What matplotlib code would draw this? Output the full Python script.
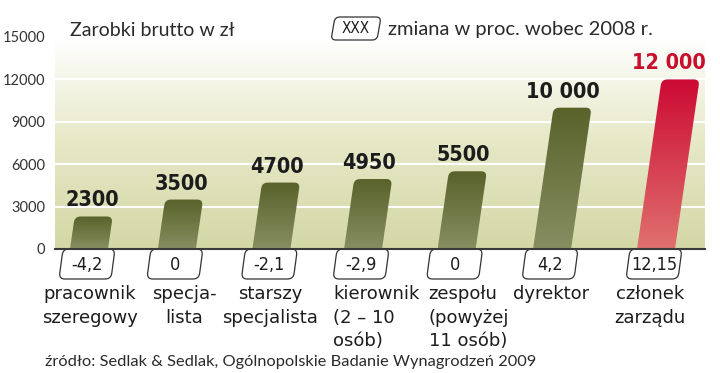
import numpy as np
import matplotlib.pyplot as plt
from matplotlib.patches import Polygon
from matplotlib.colors import LinearSegmentedColormap

categories = ["pracownik\nszeregowy", "specja-\nlista", "starszy\nspecjalista",
              "kierownik\n(2 – 10\nosób)", "zespołu\n(powyżej\n11 osób)",
              "dyrektor", "członek\nzarządu"]
salaries = [2300, 3500, 4700, 4950, 5500, 10000, 12000]
changes = ["-4,2", "0", "-2,1", "-2,9", "0", "4,2", "12,15"]
yticks = [0, 3000, 6000, 9000, 12000, 15000]

# layout in pixels
W, H = 720, 373
L, R, B, T = 55, 705, 249, 37
unit = 94.5
slot = [0, 0.93, 1.93, 2.90, 3.89, 4.90, 6.0]
lab_dx = [1, 7, -1, -30, -28, -1, -6]
lab_ha = ["center", "center", "center", "left", "left", "center", "center"]

COND = dict(family="DejaVu Sans", stretch="condensed")
LIGHT = dict(family="Lato", fontweight="normal")

fig = plt.figure(figsize=(W / 100, H / 100), dpi=100)
ax = fig.add_axes([L / W, 1 - B / H, (R - L) / W, (B - T) / H])
xmin, xmax = -(89 - L) / unit, (R - 89) / unit
sx, sy = 1 / unit, 15000 / (B - T)


def rounded(corners, radii, n=8):
    pts = []
    m = len(corners)
    for i in range(m):
        p = np.array(corners[i], float)
        r = radii[i]
        if r == 0:
            pts.append(p)
            continue
        a = np.array(corners[i - 1], float)
        b = np.array(corners[(i + 1) % m], float)
        p1 = p + (a - p) / np.linalg.norm(a - p) * r
        p2 = p + (b - p) / np.linalg.norm(b - p) * r
        t = np.linspace(0, 1, n)[:, None]
        pts.extend((1 - t) ** 2 * p1 + 2 * (1 - t) * t * p + t ** 2 * p2)
    return np.array(pts)


def to_data(pts, x0, y0):
    pts = np.asarray(pts)
    return np.column_stack([x0 + pts[:, 0] * sx, y0 + pts[:, 1] * sy])


def fig_px(px, py):
    return xmin + (px - L) * sx, (B - py) * sy


# background
bg = LinearSegmentedColormap.from_list("bg", ["#d4d8a6", "#e6e8c6", "#ffffff"])
grad = np.linspace(0, 1, 256)[:, None]
ax.imshow(grad, extent=[xmin, xmax, 0, 15000], aspect="auto", cmap=bg,
          origin="lower", zorder=0)
for v in yticks[1:]:
    ax.axhline(v, color="white", lw=1.5, zorder=1)

olive = LinearSegmentedColormap.from_list("olive", ["#878e62", "#59622a"])
red = LinearSegmentedColormap.from_list("red", ["#e0716f", "#cc0a33"])

for i, v in enumerate(salaries):
    xc = slot[i]
    hpx = v / sy
    s = 0.145 * hpx
    cmap = red if i == len(salaries) - 1 else olive
    poly = rounded([(-19, 0), (19, 0), (19 + s, hpx), (-19 + s, hpx)], [0, 0, 6, 6])
    patch = Polygon(to_data(poly, xc, 0), closed=True, fc="none", ec="none")
    ax.add_patch(patch)
    im = ax.imshow(grad, extent=[xc - 19 * sx, xc + (19 + s) * sx, 0, v],
                   aspect="auto", cmap=cmap, origin="lower", zorder=2)
    im.set_clip_path(patch)
    txt = f"{v:,}".replace(",", " ") if v >= 10000 else str(v)
    ax.text(xc + (s / 2 + 1) * sx, v + 10 * sy, txt, ha="center", va="baseline",
            fontsize=15.5, fontweight="bold", **COND,
            color="#c8102e" if i == len(salaries) - 1 else "#1c1c1c", zorder=5)

    # change box
    bx = xc - 2 * sx
    box = rounded([(-28, -30), (24, -30), (28, 0), (-24, 0)], [6, 6, 6, 6])
    ax.add_patch(Polygon(to_data(box, bx, 0), closed=True, fc="white", ec="#333333",
                         lw=0.9, clip_on=False, zorder=5))
    ax.text(bx, -16 * sy, changes[i], ha="center", va="center", fontsize=13,
            **COND, color="#1c1c1c", clip_on=False, zorder=6)

    ax.text(xc + lab_dx[i] * sx, -36 * sy, categories[i], ha=lab_ha[i], va="top",
            multialignment=lab_ha[i], fontsize=13, family="DejaVu Sans",
            color="#1c1c1c", linespacing=1.4, clip_on=False)

ax.axhline(0, color="#3a3a3a", lw=1.5, zorder=6, clip_on=False)

ax.set_xlim(xmin, xmax)
ax.set_ylim(0, 15000)
ax.set_xticks([])
ax.set_yticks(yticks)
ax.set_yticklabels([str(v) for v in yticks], fontsize=10.5, color="#333333", **LIGHT)
ax.tick_params(axis="y", length=0, pad=7)
for sp in ax.spines.values():
    sp.set_visible(False)

# header
fig.text(70 / W, 1 - 36 / H, "Zarobki brutto w zł", ha="left", va="baseline",
         fontsize=14, color="#2a2a2a", **LIGHT)
lx, ly = fig_px(356, 28.5)
lbox = rounded([(-25, -11.5), (21, -11.5), (25, 11.5), (-21, 11.5)], [5, 5, 5, 5])
ax.add_patch(Polygon(to_data(lbox, lx, ly), closed=True, fc="white", ec="#333333",
                     lw=0.9, clip_on=False, zorder=5))
ax.text(lx, ly, "XXX", ha="center", va="center", fontsize=11, **COND,
        color="#1c1c1c", clip_on=False, zorder=6)
fig.text(388 / W, 1 - 35 / H, "zmiana w proc. wobec 2008 r.", ha="left", va="baseline",
         fontsize=14.5, color="#2a2a2a", **LIGHT)

fig.text(45 / W, 1 - 366 / H, "źródło: Sedlak & Sedlak, Ogólnopolskie Badanie Wynagrodzeń 2009",
         ha="left", va="baseline", fontsize=11.8, color="#2a2a2a", **LIGHT)

fig.savefig("out.png", dpi=100)
